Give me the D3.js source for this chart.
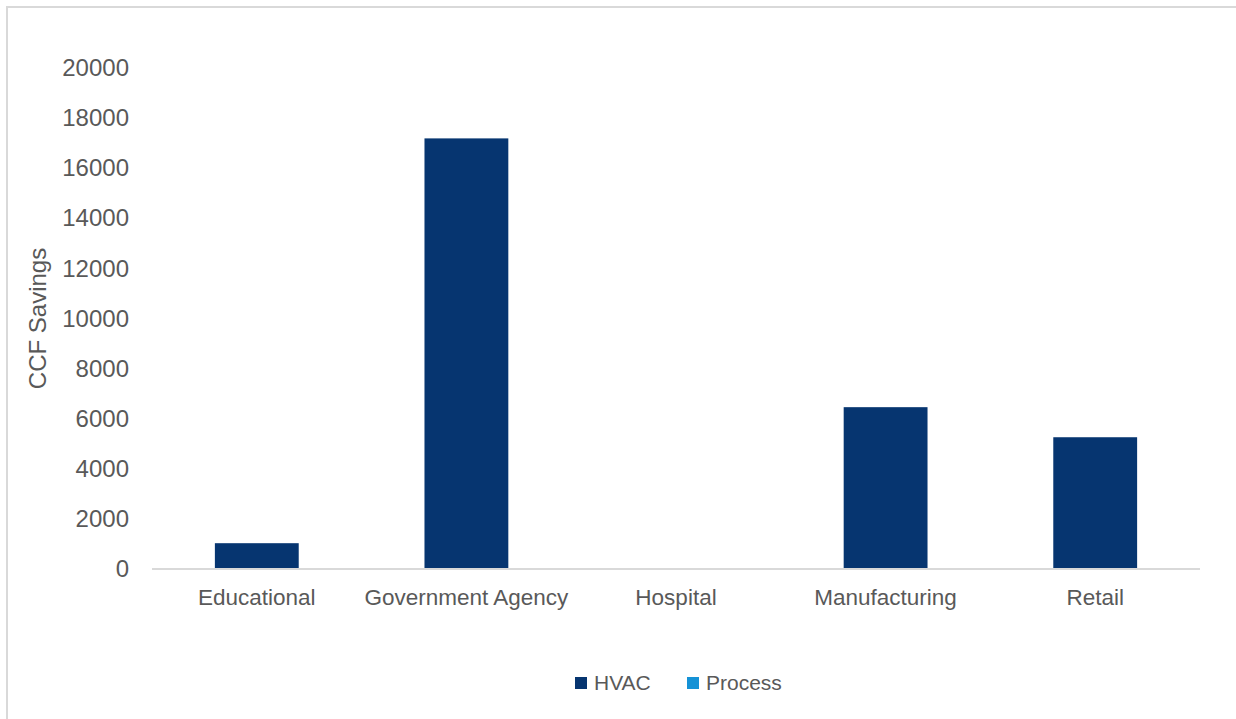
<!DOCTYPE html>
<html>
<head>
<meta charset="utf-8">
<script src="https://cdn.jsdelivr.net/npm/d3@7"></script>
<style>
  body { margin: 0; background: #fff; }
  text { font-family: "Liberation Sans", Arial, sans-serif; fill: #595959; }
</style>
</head>
<body>
<div id="chart"></div>
<script>
// data
var categories = ["Educational", "Government Agency", "Hospital", "Manufacturing", "Retail"];
var seriesNames = ["HVAC", "Process"];
var hvacValues = [1030, 17190, 0, 6460, 5260];
var processValues = [0, 0, 0, 0, 0];
var yTicks = [0, 2000, 4000, 6000, 8000, 10000, 12000, 14000, 16000, 18000, 20000];

var width = 1236, height = 719;
var plotLeft = 152, plotRight = 1200, plotTop = 68, plotBottom = 569;
var colors = ["#063570", "#1592d6"];

var svg = d3.select("#chart").append("svg")
    .attr("width", width)
    .attr("height", height);

// outer frame (only top/left edges fall in view)
svg.append("rect")
    .attr("x", 7).attr("y", 7)
    .attr("width", 1240).attr("height", 730)
    .attr("fill", "none")
    .attr("stroke", "#d9d9d9")
    .attr("stroke-width", 2);

var x = d3.scaleBand().domain(categories).range([plotLeft, plotRight]).paddingInner(0.6).paddingOuter(0.3);
var y = d3.scaleLinear().domain([0, 20000]).range([plotBottom, plotTop]);

var rows = categories.map(function(c, i) {
    return { cat: c, HVAC: hvacValues[i], Process: processValues[i] };
});
var stacked = d3.stack().keys(seriesNames)(rows);

svg.append("g")
    .selectAll("g")
    .data(stacked)
    .enter()
    .append("g")
    .attr("fill", function(d, i) { return colors[i]; })
    .selectAll("rect")
    .data(function(d) { return d; })
    .enter()
    .append("rect")
    .attr("x", function(d) { return x(d.data.cat); })
    .attr("y", function(d) { return y(d[1]); })
    .attr("width", x.bandwidth())
    .attr("height", function(d) { return y(d[0]) - y(d[1]); });

// y axis
var yAxis = svg.append("g")
    .attr("transform", "translate(" + (plotLeft - 10) + ",0)")
    .call(d3.axisLeft(y).tickValues(yTicks).tickSize(0).tickPadding(13).tickFormat(d3.format("d")));
yAxis.select(".domain").remove();
yAxis.selectAll("text").style("font-size", "24px").attr("fill", "#595959");

// x axis
var xAxis = svg.append("g")
    .attr("transform", "translate(0," + plotBottom + ")")
    .call(d3.axisBottom(x).tickSize(0).tickPadding(20));
xAxis.select(".domain")
    .attr("d", "M" + plotLeft + ",0H" + plotRight)
    .attr("stroke", "#d9d9d9")
    .attr("stroke-width", 2);
xAxis.selectAll("text").style("font-size", "22.5px").attr("fill", "#595959");

// axis title
svg.append("text")
    .attr("transform", "translate(46," + ((plotTop + plotBottom) / 2) + ") rotate(-90)")
    .attr("text-anchor", "middle")
    .style("font-size", "24px")
    .text("CCF Savings");

// legend
var legendX = [575, 687];
var legend = svg.append("g")
    .selectAll("g")
    .data(seriesNames)
    .enter()
    .append("g")
    .attr("transform", function(d, i) { return "translate(" + legendX[i] + ",677)"; });
legend.append("rect")
    .attr("width", 12).attr("height", 12)
    .attr("fill", function(d, i) { return colors[i]; });
legend.append("text")
    .attr("x", 19).attr("y", 13)
    .style("font-size", "21px")
    .text(function(d) { return d; });
</script>
</body>
</html>
